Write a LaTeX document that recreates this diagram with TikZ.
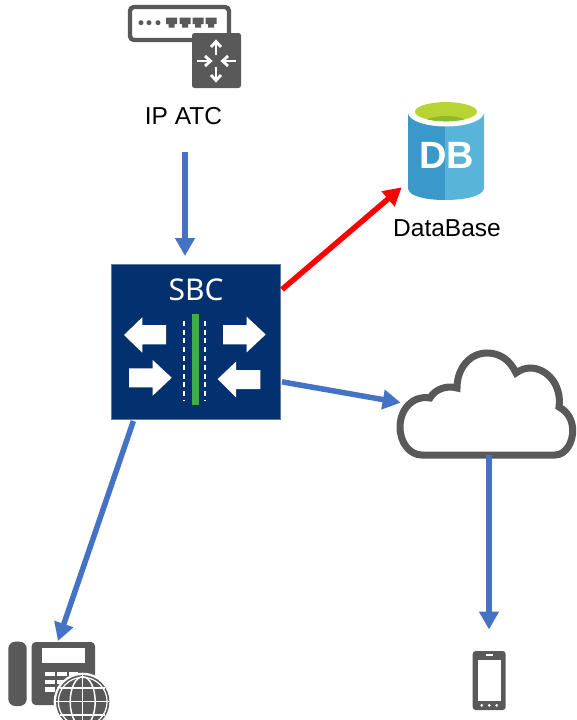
\documentclass[tikz,border=0pt]{standalone}
\usepackage{fontspec}
\setmainfont{Liberation Sans}
\newfontfamily\iconfont{Noto Sans}
\usetikzlibrary{arrows.meta}
\definecolor{icondark}{HTML}{595959}
\definecolor{flowblue}{HTML}{4472C4}
\definecolor{sbcblue}{HTML}{03306F}
\definecolor{sbcedge}{HTML}{5F7BA3}
\definecolor{dbleft}{HTML}{3B99C9}
\definecolor{dbright}{HTML}{59B4D9}
\definecolor{dblime}{HTML}{B8D432}
\definecolor{dbgreen}{HTML}{8DBB2C}
\definecolor{midgreen}{HTML}{3FAE49}
\tikzset{
  flow/.style={draw=flowblue,line width=5.5pt,-{Triangle[length=18pt,width=19pt]}},
  hot/.style={draw=red,line width=5.5pt,-{Triangle[length=18pt,width=19pt]}},
  caption/.style={font=\fontsize{24.5}{28}\selectfont,text=black,inner sep=0pt},
  icondraw/.style={draw=icondark,line width=4.4pt,line join=round},
  chev/.style={draw=white,line width=2.8pt},
  lanemark/.style={draw=white,line width=2.2pt,dash pattern=on 5pt off 3.8pt},
  bigarrow/.style={fill=white,draw=none},
  sbcbox/.style={draw=sbcedge,fill=sbcblue,line width=1pt,minimum width=169pt,minimum height=155pt,outer sep=2pt,inner sep=0pt},
}
\begin{document}
\begin{tikzpicture}[x=1pt,y=-1pt]
\useasboundingbox (0,0) rectangle (576,720);
\fill[white] (0,0) rectangle (576,720);

% router icon
\draw[icondraw,rounded corners=4pt] (229,33) -- (229,7) -- (130,7) -- (130,40) -- (192,40);
\foreach \px in {141,149,158}{\fill[icondark] (\px,22.7) circle (2.5pt);}
\foreach \px in {171.7,185,198,211}{
  \fill[icondark] (\px-5.5,17.5) -- (\px+5.5,17.5) -- (\px+5.5,24) -- (\px+3,24) -- (\px+3,27.5) -- (\px-3,27.5) -- (\px-3,24) -- (\px-5.5,24) -- cycle;}
\fill[icondark,rounded corners=2.5pt] (192,33) rectangle (241,88);
\draw[chev] (216,55) -- (216,42);
\draw[chev] (211,47) -- (216,41.5) -- (221,47);
\draw[chev] (216,67) -- (216,80);
\draw[chev] (211,75) -- (216,80.5) -- (221,75);
\draw[chev] (197,61) -- (210,61);
\draw[chev] (205,56) -- (210.5,61) -- (205,66);
\draw[chev] (236,61) -- (223,61);
\draw[chev] (228,56) -- (222.5,61) -- (228,66);
\node[caption] (atclabel) at (183.5,116) {IP ATC};
\coordinate (atcout) at (185,152);

% database icon
\fill[dbleft] (408,113) -- (445,113) -- (445,200) .. controls (425,200) and (408,196) .. (408,188) -- cycle;
\fill[dbright] (445,113) -- (484,113) -- (484,188) .. controls (484,196) and (465,200) .. (445,200) -- cycle;
\fill[white] (446,112.5) ellipse (38pt and 14pt);
\fill[dblime] (446,111.7) ellipse (31pt and 9.6pt);
\begin{scope}
  \clip (446,111.7) ellipse (31pt and 9.6pt);
  \fill[dbgreen] (446,125) ellipse (24pt and 9pt);
\end{scope}
\node[font=\bfseries\fontsize{38}{40}\selectfont,text=white,inner sep=0pt] (dbmark) at (446.5,155) {DB};
\node[caption] (dblabel) at (447,228) {DataBase};
\coordinate (dbin) at (401.7,187.3);

% SBC
\node[sbcbox] (sbc) at (195.5,341.5) {};
\node[font=\iconfont\fontsize{30}{32}\selectfont,text=white,inner sep=0pt] (sbclabel) at (196,290) {SBC};
\fill[midgreen] (191.7,314) rectangle (199,405);
\draw[lanemark] (183.7,320.7) -- (183.7,400);
\draw[lanemark] (205.3,320.7) -- (205.3,400);
\fill[bigarrow] (124,335) -- (142.3,317.3) -- (142.3,325) -- (166,325) -- (166,344.3) -- (142.3,344.3) -- (142.3,352.7) -- cycle;
\fill[bigarrow] (265.7,334.5) -- (246.7,316.7) -- (246.7,325) -- (223,325) -- (223,344.3) -- (246.7,344.3) -- (246.7,352.3) -- cycle;
\fill[bigarrow] (171.7,377.7) -- (152.7,360) -- (152.7,368.3) -- (129,368.3) -- (129,387.3) -- (152.7,387.3) -- (152.7,395.7) -- cycle;
\fill[bigarrow] (217.7,379) -- (236,361.7) -- (236,370) -- (260.3,370) -- (260.3,389) -- (236,389) -- (236,397.3) -- cycle;

% cloud
\draw[draw=icondark,line width=7pt,line join=miter,fill=white]
  (421.7,455) -- (555,455)
  .. controls (566,455) and (573,442) .. (572.7,430)
  .. controls (572.5,420) and (568,412) .. (559,407)
  .. controls (562,385) and (547,368) .. (530,368)
  .. controls (525,368) and (520,370) .. (516,373)
  .. controls (510,360) and (500,353) .. (487,353)
  .. controls (470,353) and (457,368) .. (457,388)
  .. controls (447,385) and (435,389) .. (430,398)
  .. controls (412,395) and (400,410) .. (400,427)
  .. controls (400,443) and (410,455) .. (421.7,455) -- cycle;
\coordinate (cloudin) at (400.7,402.7);
\coordinate (cloudout) at (489,455);

% desk phone
\fill[icondark,rounded corners=7pt] (8.3,641.7) rectangle (26.7,706);
\fill[icondark,rounded corners=4pt] (31.7,642) rectangle (95,705);
\fill[white] (41.7,648) rectangle (85,663);
\foreach \ky in {671.7,680,687.3}{
  \fill[white] (45,\ky) rectangle (55,\ky+4.4);
  \fill[white] (57.3,\ky) rectangle (66.7,\ky+4.4);
  \fill[white] (68.5,\ky) rectangle (78,\ky+4.4);
}
\begin{scope}
  \clip (0,0) rectangle (576,720);
  \fill[white] (82.7,701.7) circle (29pt);
  \fill[icondark] (82.7,701.7) circle (26.7pt);
  \draw[white,line width=1.5pt] (82.7,675) -- (82.7,728);
  \draw[white,line width=1.5pt] (82.7,701.7) ellipse (12.5pt and 25pt);
  \draw[white,line width=1.5pt] (56,701.7) -- (109.4,701.7);
  \draw[white,line width=1.5pt] (60,688) -- (105,688);
  \draw[white,line width=1.5pt] (60,715) -- (105,715);
  \draw[white,line width=1.2pt] (82.7,701.7) circle (24.4pt);
\end{scope}
\coordinate (deskin) at (58,641);

% mobile phone
\fill[icondark,rounded corners=3pt] (472.7,651) rectangle (505.7,710);
\fill[white] (477.7,660) rectangle (501.3,700.7);
\fill[white] (486,654.3) rectangle (492.7,656.3);
\foreach \dx in {481.7,489.3,496.7}{\fill[white] (\dx,705.3) circle (1.5pt);}
\coordinate (mobilein) at (489,629.5);

% connectors
\draw[flow,shorten >=6pt] (atcout) -- (atcout |- sbc.north);
\draw[hot] (sbc.31.25) -- (dbin);
\draw[flow] (sbc.-25.4) -- (cloudin);
\draw[flow] (cloudout) -- (mobilein);
\draw[flow] (sbc.232.4) -- (deskin);
\end{tikzpicture}
\end{document}
